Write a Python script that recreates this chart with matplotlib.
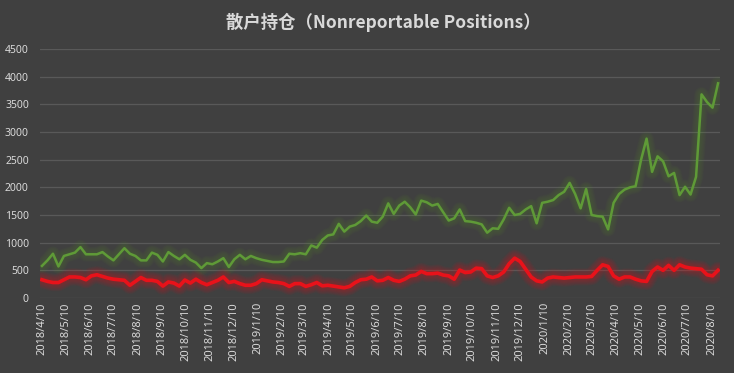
import matplotlib
matplotlib.use("Agg")
import matplotlib.pyplot as plt
import numpy as np
import pandas as pd

# weekly observation dates (Tuesdays)
start_date = "2018-04-10"
n_weeks = 124
dates = pd.date_range(start_date, periods=n_weeks, freq="7D")

green_values = [
    580, 680, 800, 570, 760, 790, 820, 920, 790, 790,
    790, 830, 750, 680, 790, 900, 800, 760, 680, 680,
    820, 780, 660, 830, 760, 700, 780, 690, 640, 540,
    630, 610, 660, 720, 560, 700, 780, 700, 760, 720,
    690, 670, 650, 650, 660, 800, 790, 810, 790, 950,
    910, 1050, 1130, 1150, 1340, 1200, 1290, 1320, 1390, 1490,
    1380, 1360, 1470, 1710, 1520, 1670, 1740, 1640, 1510, 1760,
    1730, 1670, 1700, 1550, 1400, 1440, 1600, 1390, 1380, 1360,
    1330, 1180, 1260, 1250, 1420, 1630, 1500, 1520, 1600, 1660,
    1350, 1720, 1740, 1770, 1860, 1920, 2080, 1880, 1620, 1970,
    1500, 1480, 1470, 1240, 1720, 1880, 1960, 2000, 2020, 2500,
    2880, 2280, 2560, 2470, 2200, 2260, 1860, 2010, 1870, 2190,
    3680, 3540, 3440, 3880,
]

red_values = [
    330, 300, 280, 280, 330, 380, 380, 370, 330, 400,
    420, 390, 360, 340, 330, 320, 230, 300, 370, 320,
    320, 300, 215, 290, 270, 215, 325, 270, 340, 280,
    240, 280, 320, 380, 280, 300, 260, 230, 230, 260,
    330, 310, 290, 280, 260, 210, 260, 260, 210, 240,
    280, 220, 230, 215, 200, 185, 210, 280, 330, 340,
    380, 310, 320, 370, 320, 300, 340, 400, 415, 480,
    440, 440, 450, 415, 400, 340, 505, 460, 470, 540,
    530, 400, 370, 400, 470, 620, 720, 660, 520, 380,
    310, 290, 360, 380, 370, 360, 370, 380, 380, 380,
    390, 500, 600, 570, 400, 340, 380, 380, 340, 310,
    300, 480, 560, 500, 590, 500, 600, 560, 540, 530,
    520, 420, 400, 500,
]

y_ticks = [0, 500, 1000, 1500, 2000, 2500, 3000, 3500, 4000, 4500]
x_tick_dates = pd.date_range("2018-04-01", "2020-08-01", freq="MS") + pd.Timedelta(days=9)
x_tick_labels = [f"{d.year}/{d.month}/{d.day}" for d in x_tick_dates]

title_text = "散户持仓（Nonreportable Positions）"

bg = "#404040"
text_col = "#d9d9d9"
grid_col = "#595959"
green_col = "#5f9a37"
red_col = "#e8121a"

fig = plt.figure(figsize=(7.34, 3.73), dpi=100, facecolor=bg)
ax = fig.add_axes([40 / 734, 1 - 298 / 373, 680 / 734, (298 - 49) / 373])
ax.set_facecolor(bg)


def glow_line(x, y, color, lw, glow_lw, glow_alpha):
    for k in range(8, 0, -1):
        ax.plot(x, y, color=color, lw=lw + glow_lw * k / 8, alpha=glow_alpha,
                solid_capstyle="round", solid_joinstyle="round", zorder=2)
    ax.plot(x, y, color=color, lw=lw, solid_joinstyle="round", zorder=3)


glow_line(dates, green_values, green_col, 1.8, 9, 0.035)
glow_line(dates, red_values, red_col, 2.6, 10, 0.05)

ax.set_ylim(0, 4500)
ax.set_yticks(y_ticks)
ax.set_xlim(dates[0] - pd.Timedelta(days=2.5), dates[-1] + pd.Timedelta(days=2.5))
ax.set_xticks(x_tick_dates)
ax.set_xticklabels(x_tick_labels, rotation=90, fontsize=8, color=text_col,
                   family=["Noto Sans", "DejaVu Sans"])
for lab in ax.get_yticklabels():
    lab.set_fontsize(7.5)
    lab.set_color(text_col)
    lab.set_family(["Noto Sans", "DejaVu Sans"])
ax.tick_params(axis="both", length=0, pad=3)
ax.tick_params(axis="y", pad=8)
ax.grid(axis="y", color=grid_col, lw=0.9, zorder=0)
ax.set_axisbelow(True)
for s in ax.spines.values():
    s.set_visible(False)

fig.text(0.522, 1 - 22 / 373, title_text, ha="center", va="center",
         fontsize=12.5, color=text_col, fontweight="bold",
         family=["Noto Sans CJK SC", "DejaVu Sans"])

fig.savefig("out.png", dpi=100, facecolor=bg)
